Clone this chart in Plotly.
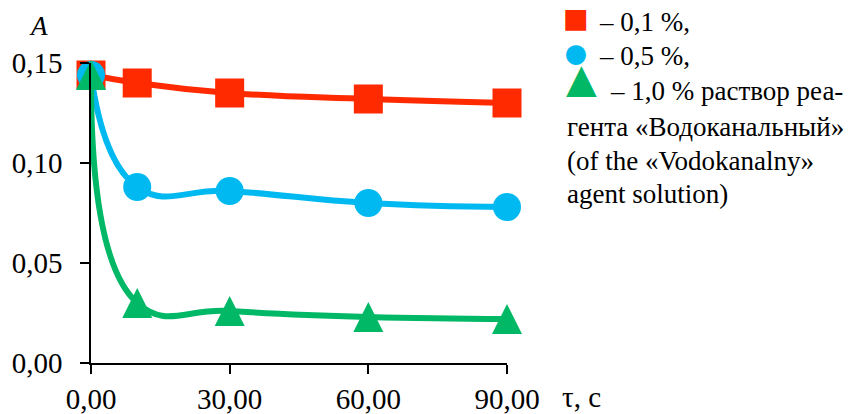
import plotly.graph_objects as go

# Absorbance A versus time for three reagent concentrations
time_s = [0, 10, 30, 60, 90]
a_01 = [0.144, 0.140, 0.135, 0.132, 0.130]
a_05 = [0.144, 0.088, 0.086, 0.080, 0.078]
a_10 = [0.144, 0.030, 0.026, 0.023, 0.022]

x_ticks = [0, 30, 60, 90]
x_labels = ["0,00", "30,00", "60,00", "90,00"]
y_ticks = [0, 0.05, 0.10, 0.15]
y_labels = ["0,00", "0,05", "0,10", "0,15"]

RED = "#ff2a00"
BLUE = "#00b9f1"
GREEN = "#00b866"
SERIF = "Liberation Serif, Times New Roman, serif"

W, H = 850, 414
ML, MR, MT, MB = 91, 343, 63, 51


def px(xp):
    return (xp - ML) / (W - ML - MR)


def py(yp):
    return (H - MB - yp) / (H - MT - MB)


fig = go.Figure()
# (values, colour, marker settings)
series = [
    (a_01, RED, dict(symbol="square", size=29)),
    (a_05, BLUE, dict(symbol="circle", size=28)),
    # upright triangle, as tall as it is wide, centred on the point
    (a_10, GREEN, dict(symbol="arrow-down", size=30, angle=180, standoff=15)),
]
for vals, col, mk in series:
    fig.add_trace(go.Scatter(
        x=time_s, y=vals, mode="lines+markers",
        line=dict(color=col, width=6, shape="spline", smoothing=1.3),
        marker=dict(color=col, line=dict(width=0), **mk),
        cliponaxis=False, showlegend=False, hoverinfo="skip",
    ))

axis_common = dict(
    showline=True, linecolor="black", linewidth=1.5,
    ticks="outside", ticklen=9, tickwidth=1.5, tickcolor="black",
    showgrid=False, zeroline=False, automargin=False,
    tickfont=dict(family=SERIF, size=29, color="black"),
)
fig.update_xaxes(range=[0, 90], tickvals=x_ticks, ticktext=x_labels,
                 ticklabelstandoff=0, **axis_common)
fig.update_yaxes(range=[0, 0.15], tickvals=y_ticks, ticktext=y_labels,
                 ticklabelstandoff=12, **axis_common)

annotations = [
    dict(text="<i>A</i>", x=px(38), y=py(26), font=dict(size=27)),
    dict(text="τ, с", x=px(560), y=py(397), xanchor="left", font=dict(size=29)),
    # legend symbols
    dict(text="■", x=px(576), y=py(18), font=dict(size=43, color=RED)),
    dict(text="●", x=px(576), y=py(53), font=dict(size=46, color=BLUE)),
    dict(text="▲", x=px(581), y=py(78),
         font=dict(size=40, color=GREEN, family="DejaVu Sans")),
    # legend text
    dict(text="– 0,1 %,", x=px(597), y=py(22), xanchor="left"),
    dict(text="– 0,5 %,", x=px(597), y=py(56), xanchor="left"),
    dict(text="– 1,0 % раствор реа-", x=px(608), y=py(91), xanchor="left"),
    dict(text="гента «Водоканальный»", x=px(565), y=py(127), xanchor="left"),
    dict(text="(of the «Vodokanalny»", x=px(565), y=py(161), xanchor="left"),
    dict(text="agent solution)", x=px(565), y=py(194), xanchor="left"),
]
for a in annotations:
    a.setdefault("xanchor", "center")
    a.setdefault("yanchor", "middle")
    font = dict(family=SERIF, size=27, color="black")
    font.update(a.get("font", {}))
    a["font"] = font
    a.update(xref="paper", yref="paper", showarrow=False)
fig.update_layout(annotations=annotations)

fig.update_layout(
    width=W, height=H,
    margin=dict(l=ML, r=MR, t=MT, b=MB),
    plot_bgcolor="white", paper_bgcolor="white",
)

fig.write_html("out.html")
